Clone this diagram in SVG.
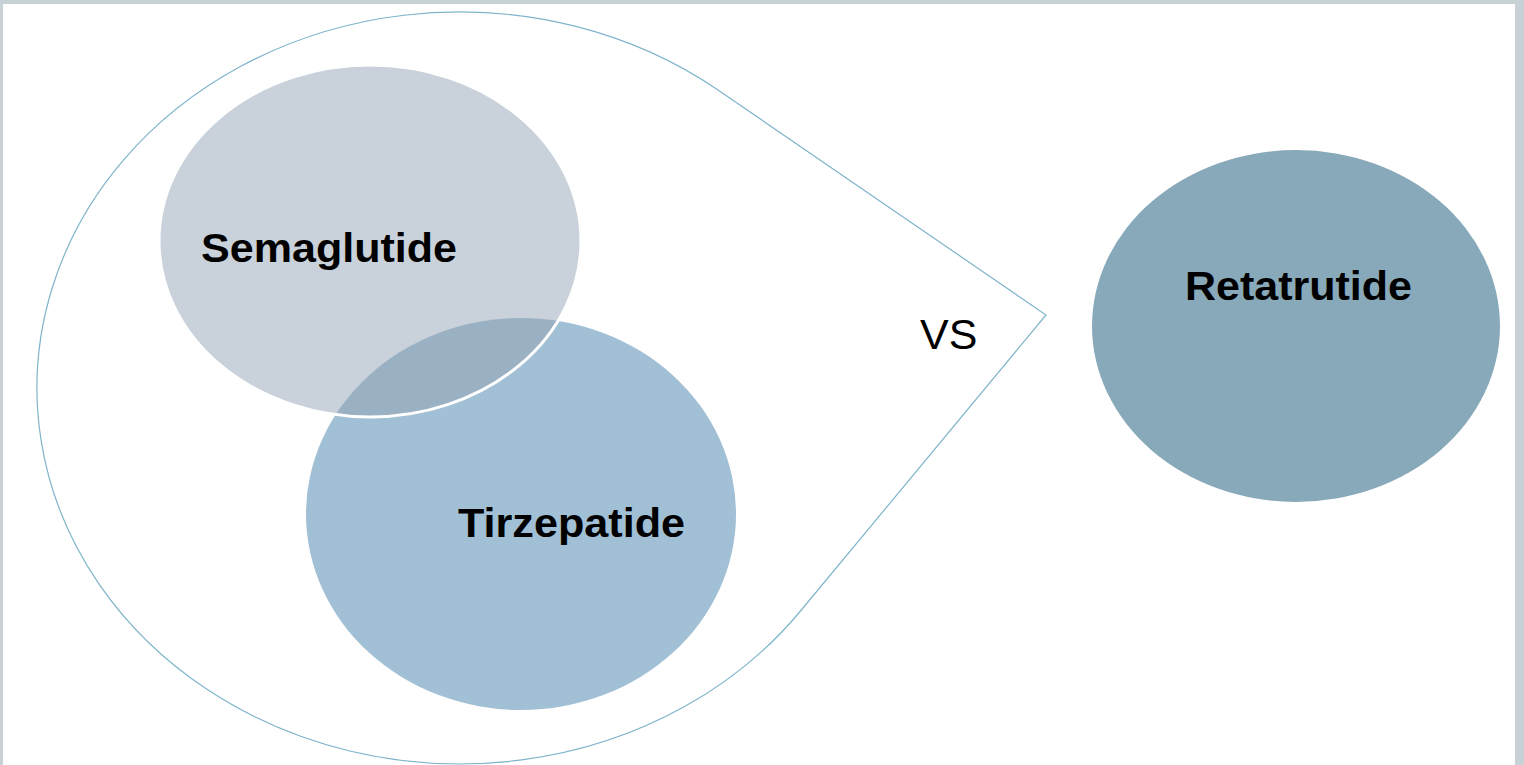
<svg xmlns="http://www.w3.org/2000/svg" width="1524" height="765" viewBox="0 0 1524 765">
  <style>
    .label { font-family: "Liberation Sans", Arial, sans-serif; font-weight: bold; font-size: 40px; fill: #000; }
    .vs { font-family: "Liberation Sans", Arial, sans-serif; font-size: 43px; fill: #000; }
    .callout { fill: none; stroke: #7fb4cb; stroke-width: 1.2; }
  </style>
  <defs>
    <clipPath id="semaClip">
      <ellipse cx="370" cy="241" rx="211" ry="176"/>
    </clipPath>
  </defs>
  <rect x="0" y="0" width="1524" height="765" fill="#c8d1d5"/>
  <rect x="3" y="4" width="1512" height="761" fill="#ffffff"/>

  <g id="callout">
    <path class="callout" d="M 718 90 L 1046 315 L 800.5 611 A 423 376 0 1 1 718 90 Z"/>
    <text class="vs" x="920" y="349">VS</text>
  </g>

  <g id="connectors"></g>

  <g id="tirzepatide">
    <ellipse cx="521" cy="514" rx="215" ry="196" fill="#a1bfd5"/>
  </g>

  <g id="semaglutide">
    <ellipse cx="370" cy="241" rx="211" ry="176" fill="#c9d2da"/>
    <ellipse cx="521" cy="514" rx="215" ry="196" fill="#9ab0c3" clip-path="url(#semaClip)"/>
    <ellipse cx="370" cy="241" rx="211" ry="176" fill="none" stroke="#ffffff" stroke-width="3"/>
    <text class="label" x="201" y="262" textLength="256" lengthAdjust="spacingAndGlyphs">Semaglutide</text>
  </g>

  <g id="tirzepatide-label">
    <text class="label" x="458" y="537" textLength="227" lengthAdjust="spacingAndGlyphs">Tirzepatide</text>
  </g>

  <g id="retatrutide">
    <ellipse cx="1296" cy="326" rx="204" ry="176" fill="#87a9ba"/>
    <text class="label" x="1185" y="300" textLength="227" lengthAdjust="spacingAndGlyphs">Retatrutide</text>
  </g>
</svg>
